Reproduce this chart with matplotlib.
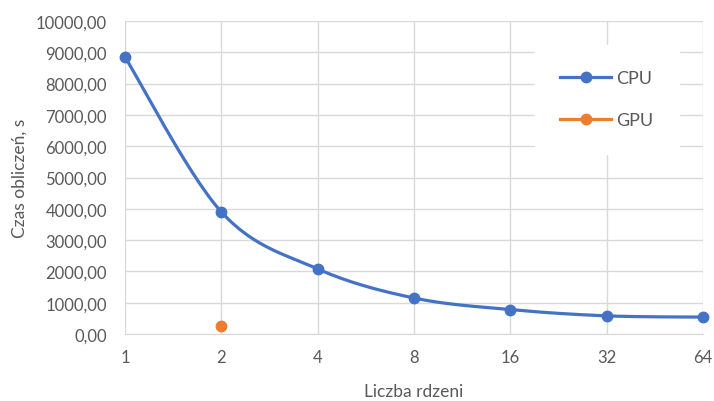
import numpy as np
import matplotlib.pyplot as plt
from matplotlib.ticker import FuncFormatter

cores = ["1", "2", "4", "8", "16", "32", "64"]
cpu = [8850, 3900, 2080, 1150, 780, 580, 540]
gpu_core = "2"
gpu = [240]

BLUE = "#4472C4"
ORANGE = "#ED7D31"
GRAY = "#595959"
GRID = "#D9D9D9"

plt.rcParams['font.family'] = ['Lato', 'DejaVu Sans']


def smooth(x, y, n=30):
    # Catmull-Rom style bezier, like Excel's smoothed line
    x = np.asarray(x, float)
    y = np.asarray(y, float)
    px, py = [], []
    for i in range(len(x) - 1):
        x0, y0 = (x[i - 1], y[i - 1]) if i > 0 else (x[i], y[i])
        x3, y3 = (x[i + 2], y[i + 2]) if i + 2 < len(x) else (x[i + 1], y[i + 1])
        c1x = x[i] + (x[i + 1] - x0) / 6
        c1y = y[i] + (y[i + 1] - y0) / 6
        c2x = x[i + 1] - (x3 - x[i]) / 6
        c2y = y[i + 1] - (y3 - y[i]) / 6
        t = np.linspace(0, 1, n)
        px.extend((1 - t) ** 3 * x[i] + 3 * (1 - t) ** 2 * t * c1x + 3 * (1 - t) * t ** 2 * c2x + t ** 3 * x[i + 1])
        py.extend((1 - t) ** 3 * y[i] + 3 * (1 - t) ** 2 * t * c1y + 3 * (1 - t) * t ** 2 * c2y + t ** 3 * y[i + 1])
    return px, py


fig = plt.figure(figsize=(7.14, 4.02), dpi=100)
ax = fig.add_axes([125 / 714, 1 - 335 / 402, (703 - 125) / 714, (335 - 22) / 402])

xpos = np.arange(len(cores))
sx, sy = smooth(xpos, cpu)
ax.plot(sx, sy, color=BLUE, lw=2.3, solid_capstyle="round", zorder=3, clip_on=False)
ax.plot(xpos, cpu, "o", color=BLUE, ms=7.5, zorder=4, clip_on=False)
ax.plot([], [], "-o", color=BLUE, lw=2.3, ms=7.5, label="CPU")
ax.plot([cores.index(gpu_core)], gpu, "o", color=ORANGE, ms=7.5, zorder=4)
ax.plot([], [], "-o", color=ORANGE, lw=2.3, ms=7.5, label="GPU")

ax.set_xlim(0, len(cores) - 1)
ax.set_ylim(0, 10000)
ax.set_xticks(xpos)
ax.set_xticklabels(cores)
ax.set_yticks(np.arange(0, 10001, 1000))
ax.yaxis.set_major_formatter(FuncFormatter(lambda v, p: f"{v:.2f}".replace(".", ",")))
ax.grid(True, color=GRID, lw=1)
ax.set_axisbelow(True)
for s in ["top", "right", "left"]:
    ax.spines[s].set_visible(False)
ax.spines["bottom"].set_color(GRID)
ax.tick_params(length=0, colors=GRAY, labelsize=12)
ax.tick_params(axis="x", pad=11)
ax.tick_params(axis="y", pad=13)

ax.set_xlabel("Liczba rdzeni", color=GRAY, fontsize=12.5, labelpad=13)
ax.set_ylabel("Czas obliczeń, s", color=GRAY, fontsize=12.5, labelpad=6)

leg = fig.legend(*ax.get_legend_handles_labels(), loc="upper left",
                 bbox_to_anchor=(535 / 714, 1 - 46 / 402), borderaxespad=0,
                 frameon=True, fontsize=13, handlelength=2.8, labelspacing=1.45,
                 borderpad=1.4, handletextpad=0.3, labelcolor=GRAY, fancybox=False)
leg.get_frame().set_facecolor("white")
leg.get_frame().set_edgecolor("white")
leg.get_frame().set_alpha(1)

fig.savefig("out.png", dpi=100)
